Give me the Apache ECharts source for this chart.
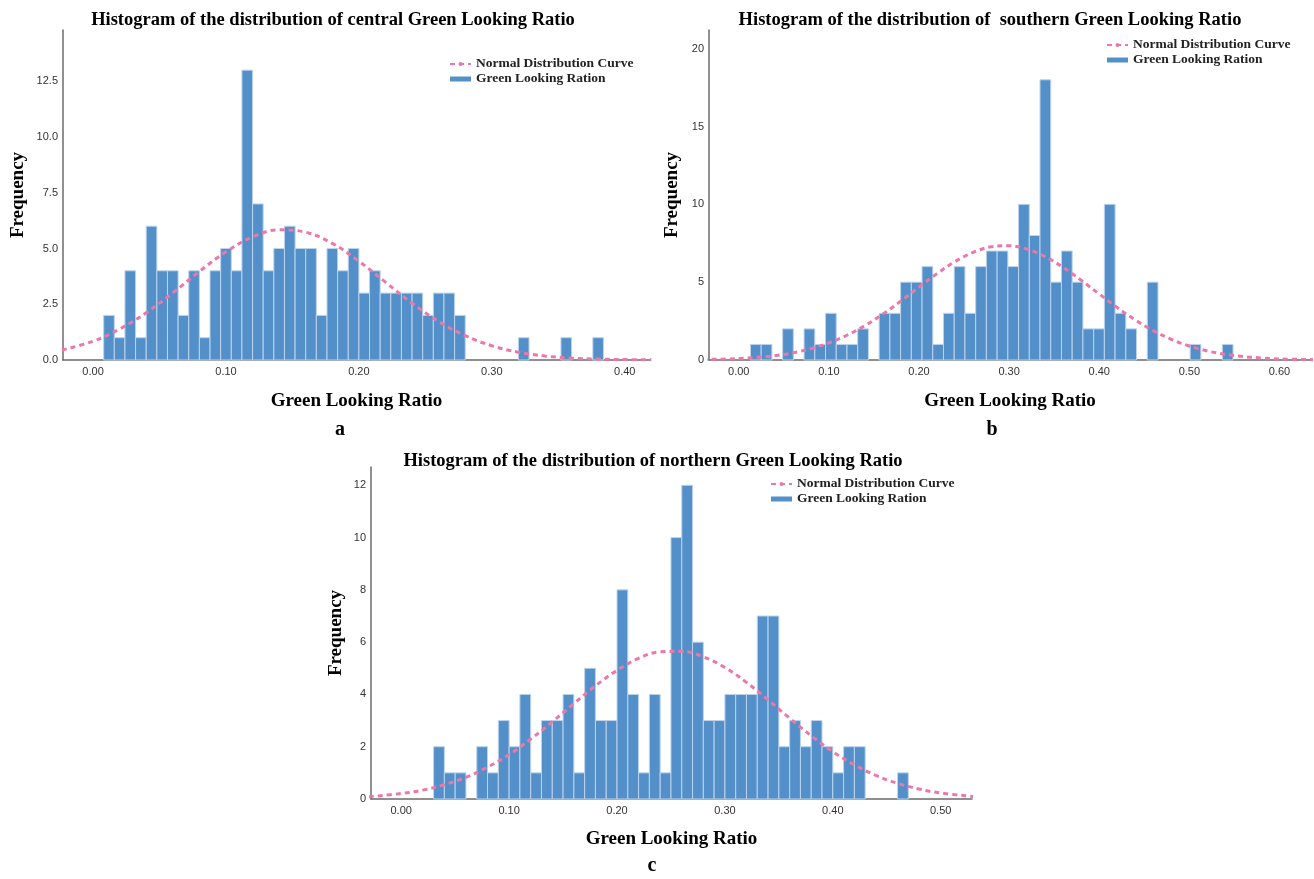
<!DOCTYPE html>
<html>
<head>
<meta charset="utf-8">
<script src="https://cdn.jsdelivr.net/npm/echarts@6/dist/echarts.min.js"></script>
<style>
html,body{margin:0;padding:0;background:#fff;}
#chart{width:1314px;height:879px;}
</style>
</head>
<body>
<div id="chart"></div>
<script>
// ---------- DATA ----------
const titleA = 'Histogram of the distribution of central Green Looking Ratio';
const titleB = 'Histogram of the distribution of  southern Green Looking Ratio';
const titleC = 'Histogram of the distribution of northern Green Looking Ratio';
const xAxisName = 'Green Looking Ratio';
const yAxisName = 'Frequency';
const curveName = 'Normal Distribution Curve';
const barName = 'Green Looking Ration';
const panelLabels = ['a', 'b', 'c'];

// central (a)
const binStartA = 0.008;
const binWidthA = 0.008;
const countsA = [2,1,4,1,6,4,4,2,4,1,4,5,4,13,7,4,5,6,5,5,2,5,4,5,3,4,3,3,3,3,2,3,3,2,0,0,0,0,0,1,0,0,0,1,0,0,1];
const curveXA = [-0.03,0.00,0.02,0.04,0.06,0.08,0.10,0.12,0.14,0.16,0.18,0.20,0.22,0.24,0.26,0.28,0.30,0.32,0.34,0.36,0.38,0.40,0.42];
const curveYA = [0.35,0.84,1.39,2.12,3.01,3.97,4.85,5.52,5.84,5.73,5.23,4.43,3.49,2.55,1.73,1.09,0.64,0.35,0.18,0.08,0.04,0.02,0.01];
const xTicksA = [0.0,0.1,0.2,0.3,0.4];
const yTicksA = [0,2.5,5,7.5,10,12.5];

// southern (b)
const binStartB = 0.013;
const binWidthB = 0.0119;
const countsB = [1,1,0,2,0,2,1,3,1,1,2,0,3,3,5,5,6,1,3,6,3,6,7,7,6,10,8,18,5,7,5,2,2,10,3,2,0,5,0,0,0,1,0,0,1];
const curveXB = [-0.04,0.00,0.02,0.04,0.06,0.08,0.10,0.12,0.14,0.16,0.18,0.20,0.22,0.24,0.26,0.28,0.30,0.32,0.34,0.36,0.38,0.40,0.42,0.44,0.46,0.48,0.50,0.52,0.54,0.56,0.58,0.60,0.64];
const curveYB = [0.03,0.09,0.17,0.28,0.46,0.73,1.10,1.59,2.21,2.95,3.79,4.68,5.55,6.32,6.91,7.27,7.34,7.12,6.64,5.95,5.12,4.24,3.37,2.57,1.88,1.33,0.90,0.58,0.37,0.22,0.13,0.07,0.02];
const xTicksB = [0.0,0.1,0.2,0.3,0.4,0.5,0.6];
const yTicksB = [0,5,10,15,20];

// northern (c)
const binStartC = 0.03;
const binWidthC = 0.01;
const countsC = [2,1,1,0,2,1,3,2,4,1,3,3,4,1,5,3,3,8,4,1,4,1,10,12,6,3,3,4,4,4,7,7,2,3,2,3,2,1,2,2,0,0,0,1];
const curveXC = [-0.03,0.00,0.02,0.04,0.06,0.08,0.10,0.12,0.14,0.16,0.18,0.20,0.22,0.24,0.26,0.28,0.30,0.32,0.34,0.36,0.38,0.40,0.42,0.44,0.46,0.48,0.50,0.53];
const curveYC = [0.09,0.21,0.34,0.55,0.83,1.22,1.70,2.29,2.95,3.65,4.33,4.92,5.38,5.63,5.65,5.44,5.03,4.46,3.79,3.09,2.42,1.81,1.31,0.90,0.60,0.38,0.23,0.10];
const xTicksC = [0.0,0.1,0.2,0.3,0.4,0.5];
const yTicksC = [0,2,4,6,8,10,12];

// ---------- STYLE ----------
const BAR_FILL = '#5390C9';
const BAR_EDGE = '#BCD3EC';
const CURVE = '#EE77AA';
const AXIS = '#6b6b6b';
const SERIF = '"Liberation Serif", "Times New Roman", serif';
const SANS = '"Liberation Sans", Arial, sans-serif';

function bins(start, w, counts) {
  return counts.map((c, i) => [start + i * w, start + (i + 1) * w, c]).filter(d => d[2] > 0);
}
function pairs(xs, ys) { return xs.map((x, i) => [x, ys[i]]); }

function renderBar(params, api) {
  const p0 = api.coord([api.value(0), api.value(2)]);
  const p1 = api.coord([api.value(1), 0]);
  return {
    type: 'rect',
    shape: { x: p0[0], y: p0[1], width: p1[0] - p0[0], height: p1[1] - p0[1] },
    style: { fill: BAR_FILL, stroke: BAR_EDGE, lineWidth: 1 }
  };
}

const grids = [
  { left: 63, top: 30, width: 587, height: 330 },
  { left: 709, top: 30, width: 602, height: 330 },
  { left: 371, top: 467, width: 601, height: 332 }
];
const xRanges = [[-0.0226, 0.419], [-0.033, 0.635], [-0.028, 0.529]];
const yMax = [14.8, 21.2, 12.7];
const xTicks = [xTicksA, xTicksB, xTicksC];
const yTicks = [yTicksA, yTicksB, yTicksC];
const yFmt = [v => v.toFixed(1), v => String(v), v => String(v)];
const xNameGap = [32, 32, 31];
const yNameGap = [35, 27, 25];

const xAxes = grids.map((g, i) => ({
  type: 'value', gridIndex: i, min: xRanges[i][0], max: xRanges[i][1],
  name: xAxisName, nameLocation: 'middle', nameGap: xNameGap[i],
  nameTextStyle: { fontFamily: SERIF, fontWeight: 'bold', fontSize: 19, color: '#000' },
  axisLine: { show: true, onZero: false, lineStyle: { color: AXIS, width: 1.5 } },
  axisTick: { show: false },
  splitLine: { show: false },
  axisLabel: { customValues: xTicks[i], formatter: v => v.toFixed(2), fontFamily: SANS, fontSize: 11, color: '#333', margin: 6 }
}));
const yAxes = grids.map((g, i) => ({
  type: 'value', gridIndex: i, min: 0, max: yMax[i],
  name: yAxisName, nameLocation: 'middle', nameRotate: 90, nameGap: yNameGap[i],
  nameTextStyle: { fontFamily: SERIF, fontWeight: 'bold', fontSize: 19, color: '#000' },
  axisLine: { show: true, onZero: false, lineStyle: { color: AXIS, width: 1.5 } },
  axisTick: { show: false },
  splitLine: { show: false },
  axisLabel: { customValues: yTicks[i], formatter: yFmt[i], fontFamily: SANS, fontSize: 11, color: '#333', margin: 5 }
}));

const binData = [bins(binStartA, binWidthA, countsA), bins(binStartB, binWidthB, countsB), bins(binStartC, binWidthC, countsC)];
const curveData = [pairs(curveXA, curveYA), pairs(curveXB, curveYB), pairs(curveXC, curveYC)];

const series = [];
for (let i = 0; i < 3; i++) {
  series.push({
    type: 'custom', name: barName, xAxisIndex: i, yAxisIndex: i,
    renderItem: renderBar, encode: { x: [0, 1], y: 2 },
    itemStyle: { color: BAR_FILL },
    data: binData[i], z: 2
  });
  series.push({
    type: 'line', name: curveName, xAxisIndex: i, yAxisIndex: i,
    data: curveData[i], smooth: 0.4, symbol: 'none', z: 3,
    itemStyle: { color: CURVE },
    lineStyle: { color: CURVE, width: 3, type: [5, 4], cap: 'butt' }
  });
}

const legendPos = [[449, 57], [1106, 38], [770, 477]];
const legends = legendPos.map(p => ({
  left: p[0], top: p[1], orient: 'vertical', padding: 0,
  itemWidth: 21, itemHeight: 5, itemGap: 1,
  textStyle: { fontFamily: SERIF, fontWeight: 'bold', fontSize: 13.5, color: '#222', lineHeight: 13 },
  data: [
    { name: curveName },
    { name: barName, icon: 'rect' }
  ]
}));

const titleStyle = { fontFamily: SERIF, fontWeight: 'bold', fontSize: 18.5, color: '#000' };
const titles = [
  { text: titleA, left: 328, top: 6, textAlign: 'center', textStyle: titleStyle },
  { text: titleB, left: 985, top: 6, textAlign: 'center', textStyle: titleStyle },
  { text: titleC, left: 648, top: 447, textAlign: 'center', textStyle: titleStyle }
];

const labelPos = [[340, 430], [992, 430], [652, 866]];
const graphics = labelPos.map((p, i) => ({
  type: 'text', x: p[0], y: p[1],
  style: { text: panelLabels[i], font: 'bold 20px ' + SERIF, fill: '#000', align: 'center', verticalAlign: 'middle' }
}));

const chart = echarts.init(document.getElementById('chart'), null, { renderer: 'canvas' });
chart.setOption({
  animation: false,
  backgroundColor: '#fff',
  title: titles,
  legend: legends,
  grid: grids,
  xAxis: xAxes,
  yAxis: yAxes,
  series: series,
  graphic: graphics
});
</script>
</body>
</html>
